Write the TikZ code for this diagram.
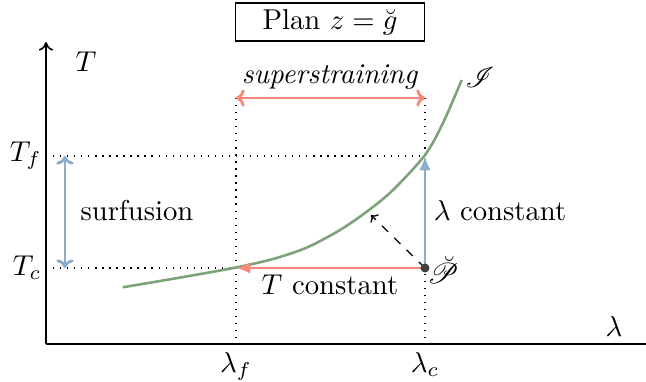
\documentclass[tikz,border=0pt]{standalone}
\usepackage{amsmath}
\usepackage{mathrsfs}
\usetikzlibrary{arrows.meta}
\definecolor{cgreen}{RGB}{126,163,122}
\definecolor{cblue}{RGB}{138,173,203}
\definecolor{cred}{RGB}{248,135,122}
\begin{document}
\begin{tikzpicture}[x=0.3484pt,y=-0.3484pt,
  axisline/.style={line width=0.55pt},
  guide/.style={dotted,line width=0.45pt},
  bluearrow/.style={cblue,line width=1pt},
  redarrow/.style={cred,line width=1pt},
  curveline/.style={cgreen,line width=0.9pt},
  lbl/.style={inner sep=0pt}]
\useasboundingbox (0,0) rectangle (646,382);

% coordinates
\coordinate (O) at (46,344);
\coordinate (Ytop) at (46,42);
\coordinate (Xend) at (646,344);
\coordinate (TfL) at (46,156);
\coordinate (TcL) at (46,268);
\coordinate (Tf) at (425,156);
\coordinate (Tcf) at (236,268);
\coordinate (P) at (425,268);
\coordinate (Lf) at (236,344);
\coordinate (Lc) at (425,344);
\coordinate (Sf) at (236,98);
\coordinate (Sc) at (425,98);
\coordinate (D) at (371,215);
\coordinate (Su1) at (65,156);
\coordinate (Su2) at (65,268);

% title
\node[draw,line width=0.5pt,minimum width=65.8pt,minimum height=13.2pt,inner sep=0pt] (title) at (330,22) {Plan $z=\breve{g}$};

% axes
\draw[axisline,-{To[length=3pt,width=5pt]}] (O) -- (Ytop);
\draw[axisline] (O) -- (Xend);
\node[lbl] (Tax) at (86,62) {$T$};
\node[lbl] (lax) at (614,327) {$\lambda$};

% guides
\draw[guide] (TfL) -- (Tf);
\draw[guide] (TcL) -- (Tcf);
\draw[guide] (Sf) -- (Lf);
\draw[guide] (Sc) -- (Lc);

% axis labels
\node[lbl,anchor=east] (Tfl) at (42,156) {$T_f$};
\node[lbl,anchor=east] (Tcl) at (42,268) {$T_c$};
\node[lbl,anchor=north] (lfl) at (236,352) {$\lambda_f$};
\node[lbl,anchor=north] (lcl) at (425,352) {$\lambda_c$};

% curve
\draw[curveline] plot[smooth,tension=0.5] coordinates {(122.7,287.3) (180,277.6) (235,267.7) (273,259) (307,247.5) (340,230) (367,211.5) (393,190) (425,155) (443,123) (461.7,80)};
\node[lbl] (Iscr) at (480,77) {$\mathscr{I}$};

% superstraining
\draw[redarrow,{To[length=3pt,width=6pt]}-{To[length=3pt,width=6pt]}] (Sf) -- (Sc);
\node[lbl] (sup) at (330,77) {\textit{superstraining}};

% surfusion
\draw[bluearrow,{To[length=3pt,width=6pt]}-{To[length=3pt,width=6pt]}] (Su1) -- (Su2);
\node[lbl] (surf) at (137,211) {surfusion};

% arrows from P
\draw[bluearrow,-{Latex[length=5pt,width=4pt]}] (P) -- (Tf);
\draw[redarrow,-{Latex[length=5pt,width=4pt]}] (P) -- (Tcf);
\draw[dashed,line width=0.45pt,-{To[length=2pt,width=4pt]}] (P) -- (D);
\fill[black!75] (P) circle (4.5);
\node[lbl] (Pl) at (443,270) {$\breve{\mathscr{P}}$};

\node[lbl] (lconst) at (500,211) {$\lambda$ constant};
\node[lbl] (tconst) at (330,285) {$T$ constant};
\end{tikzpicture}
\end{document}
